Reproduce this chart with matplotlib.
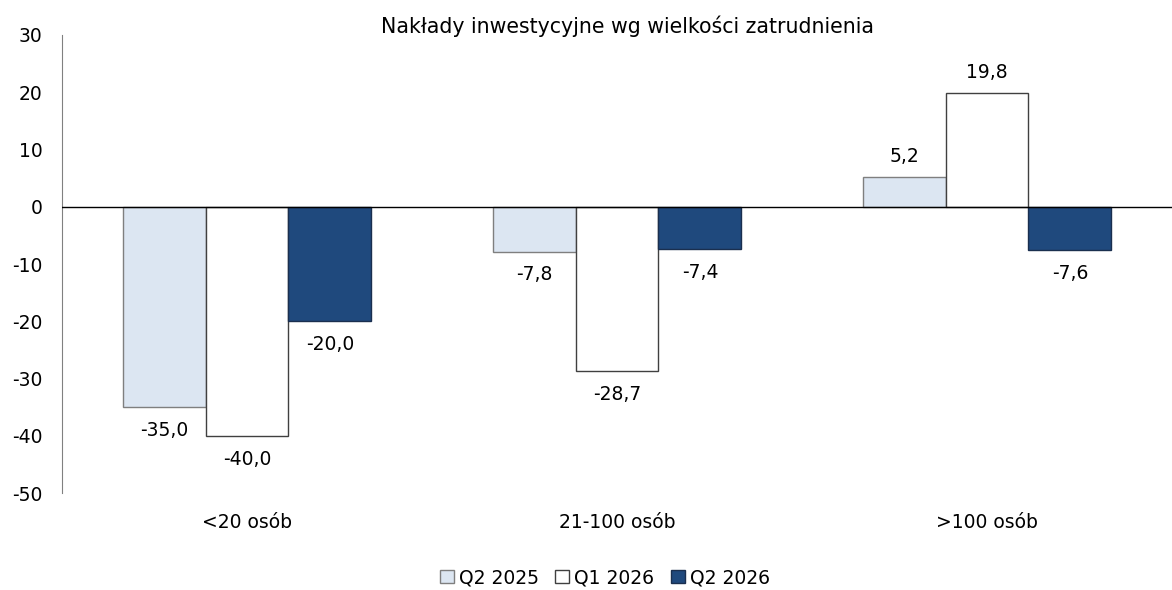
import numpy as np
import matplotlib.pyplot as plt

plt.rcParams['font.family'] = ['DejaVu Sans']
plt.rcParams['axes.unicode_minus'] = False

# Data
categories = ['<20 osób', '21-100 osób', '>100 osób']
series_names = ['Q2 2025', 'Q1 2026', 'Q2 2026']
q2_2025 = [-35.0, -7.8, 5.2]
q1_2026 = [-40.0, -28.7, 19.8]
q2_2026 = [-20.0, -7.4, -7.6]

fills = ['#dce6f2', '#ffffff', '#1f497d']
edges = ['#7f7f7f', '#404040', '#1a2f4f']

fig = plt.figure(figsize=(11.72, 5.9), dpi=100)
ax = fig.add_axes([0.0529, 0.164, 0.9471, 0.7767])

x = np.arange(len(categories))
width = 0.224
for i, (vals, fc, ec, name) in enumerate(zip([q2_2025, q1_2026, q2_2026], fills, edges, series_names)):
    pos = x + (i - 1) * width
    bars = ax.bar(pos, vals, width, color=fc, edgecolor=ec, linewidth=1.0, label=name, zorder=2)
    for b, v in zip(bars, vals):
        off = 8 if v >= 0 else -10
        ax.annotate(f'{v:.1f}'.replace('.', ','), (b.get_x() + b.get_width() / 2, v),
                    xytext=(0, off), textcoords='offset points',
                    ha='center', va='bottom' if v >= 0 else 'top', fontsize=13.5)

ax.axhline(0, color='black', linewidth=1.0, zorder=3)
ax.set_xlim(-0.5, 2.5)
ax.set_ylim(-50, 30)
ax.set_yticks(range(-50, 31, 10))
ax.set_xticks(x)
ax.set_xticklabels(categories)
ax.tick_params(axis='both', length=0, labelsize=13.5)
ax.tick_params(axis='y', pad=14)
ax.tick_params(axis='x', pad=14)
for s in ['top', 'right', 'bottom']:
    ax.spines[s].set_visible(False)
ax.spines['left'].set_color('#808080')

fig.text(0.535, 0.955, 'Nakłady inwestycyjne wg wielkości zatrudnienia',
         ha='center', va='center', fontsize=14.8)

fig.legend(loc='center', bbox_to_anchor=(0.516, 0.021), ncol=3, frameon=False,
           fontsize=13.5, handlelength=0.75, handleheight=0.75, handletextpad=0.25,
           columnspacing=0.9)

fig.savefig('out.png', dpi=100)
